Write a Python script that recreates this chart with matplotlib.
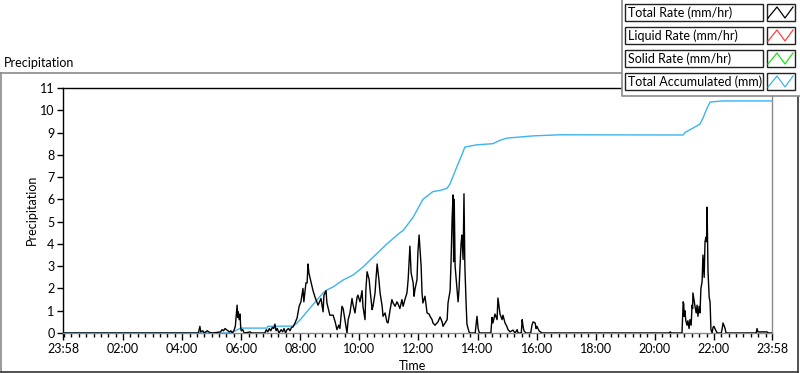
import matplotlib
matplotlib.use("Agg")
import matplotlib.pyplot as plt
from matplotlib.patches import Rectangle
from matplotlib.lines import Line2D
from matplotlib.ticker import FixedLocator, MultipleLocator

plt.rcParams['font.family'] = ['Lato', 'DejaVu Sans']

# time axis in hours after midnight, window 23:58 -> 23:58
t_start = -2 / 60
t_end = 24 - 2 / 60

# Total Rate (mm/hr)
rate_hours = [
    t_start, 4.55, 4.60, 4.63, 4.70, 4.75, 4.85, 4.90, 5.00, 5.15, 5.30, 5.35, 5.40, 5.45,
    5.50, 5.55, 5.60, 5.65, 5.70, 5.75, 5.80, 5.83, 5.86, 5.88, 5.90, 5.93, 5.96, 5.98,
    6.00, 6.05, 6.10, 6.20, 6.30, 6.35, 6.80, 6.85, 6.90, 6.95, 7.00, 7.05, 7.10, 7.14,
    7.18, 7.22, 7.28, 7.35, 7.40, 7.45, 7.50, 7.55, 7.60, 7.65, 7.70, 7.75, 7.82, 7.89,
    7.96, 8.02, 8.09, 8.12, 8.19, 8.23, 8.26, 8.29, 8.36, 8.43, 8.50, 8.60, 8.70, 8.77,
    8.80, 8.87, 8.90, 9.00, 9.11, 9.18, 9.24, 9.30, 9.34, 9.41, 9.45, 9.51, 9.58, 9.62,
    9.68, 9.75, 9.78, 9.85, 9.92, 9.95, 10.02, 10.09, 10.12, 10.19, 10.22, 10.26, 10.33,
    10.36, 10.43, 10.46, 10.53, 10.56, 10.60, 10.66, 10.70, 10.77, 10.80, 10.87, 10.93,
    10.97, 11.04, 11.10, 11.14, 11.21, 11.27, 11.31, 11.37, 11.44, 11.48, 11.54, 11.61,
    11.65, 11.71, 11.75, 11.82, 11.85, 11.88, 11.95, 11.98, 12.02, 12.09, 12.12, 12.15,
    12.22, 12.26, 12.29, 12.36, 12.39, 12.46, 12.49, 12.56, 12.63, 12.66, 12.73, 12.80,
    12.83, 12.90, 12.97, 13.00, 13.07, 13.10, 13.14, 13.17, 13.19, 13.21, 13.24, 13.31,
    13.34, 13.37, 13.44, 13.47, 13.51, 13.54, 13.57, 13.61, 13.64, 13.71, 13.74, 13.92,
    13.95, 13.98, 14.02, 14.06, 14.45, 14.49, 14.52, 14.59, 14.66, 14.69, 14.76, 14.83,
    14.86, 14.93, 14.99, 15.03, 15.10, 15.20, 15.27, 15.34, 15.37, 15.48, 15.51, 15.54,
    15.57, 15.64, 15.80, 15.84, 15.88, 15.95, 15.98, 16.01, 16.08, 16.18, 20.48, 20.52,
    20.56, 20.92, 20.96, 20.98, 20.99, 21.02, 21.05, 21.09, 21.12, 21.16, 21.19, 21.23,
    21.26, 21.28, 21.29, 21.36, 21.40, 21.43, 21.46, 21.50, 21.53, 21.56, 21.60, 21.63,
    21.67, 21.70, 21.73, 21.75, 21.77, 21.80, 21.84, 21.87, 21.90, 21.94, 21.97, 22.00,
    22.07, 22.11, 22.25, 22.28, 22.31, 22.38, 22.41, 23.43, 23.46, 23.49, 23.60, 23.80,
    23.85, t_end,
]
rate_values = [
    0.00, 0.00, 0.30, 0.05, 0.10, 0.00, 0.10, 0.05, 0.00, 0.02, 0.05, 0.15, 0.10, 0.20,
    0.15, 0.10, 0.05, 0.10, 0.00, 0.10, 0.30, 0.80, 1.25, 0.70, 0.95, 0.60, 0.85, 0.30,
    0.10, 0.15, 0.00, 0.02, 0.05, 0.00, 0.00, 0.15, 0.05, 0.20, 0.10, 0.25, 0.20, 0.40,
    0.10, 0.20, 0.00, 0.15, 0.05, 0.20, 0.00, 0.15, 0.20, 0.10, 0.25, 0.27, 0.45, 0.67,
    1.20, 1.40, 2.00, 1.40, 2.25, 2.25, 3.10, 2.70, 2.30, 1.90, 1.60, 1.25, 1.55, 0.95,
    1.70, 1.90, 1.35, 0.80, 0.80, 0.50, 0.15, 0.35, 0.20, 1.20, 1.10, 0.60, 0.00, 0.60,
    0.90, 1.55, 1.30, 0.90, 1.60, 1.70, 1.40, 1.90, 1.20, 0.60, 1.95, 2.75, 2.40,
    1.95, 1.05, 1.20, 1.80, 2.40, 3.10, 2.40, 1.80, 1.20, 0.75, 0.90, 0.50,
    0.45, 1.05, 1.50, 1.35, 1.20, 1.40, 1.30, 1.10, 1.50, 1.20, 1.50, 1.80,
    2.40, 3.90, 2.70, 2.25, 1.65, 1.95, 2.40, 3.60, 4.40, 3.00, 1.80, 1.35,
    1.65, 1.20, 0.90, 0.85, 0.75, 0.60, 0.45, 0.35, 0.45, 0.50, 0.72, 0.50,
    0.30, 0.45, 0.60, 1.35, 1.90, 3.10, 5.20, 6.20, 3.20, 6.00, 3.00, 1.90,
    1.40, 1.90, 4.00, 4.40, 3.30, 6.25, 3.00, 1.40, 0.40, 0.05, 0.00, 0.00,
    0.40, 0.75, 0.20, 0.00, 0.00, 0.70, 0.45, 0.85, 0.60, 1.57, 0.85, 0.60,
    0.80, 0.45, 0.30, 0.15, 0.05, 0.13, 0.00, 0.15, 0.00, 0.00, 0.60, 0.30,
    0.10, 0.00, 0.00, 0.35, 0.50, 0.45, 0.20, 0.30, 0.10, 0.00, 0.00, 0.05,
    0.00, 0.00, 1.40, 1.30, 0.75, 1.00, 0.55, 0.35, 0.55, 0.20, 0.60, 0.35,
    1.25, 1.10, 1.80, 1.20, 0.90, 1.25, 0.75, 1.20, 0.90, 2.00, 2.30, 3.50,
    2.50, 4.10, 4.30, 4.10, 5.65, 2.80, 1.60, 1.40, 0.15, 0.00, 0.25, 0.30,
    0.10, 0.00, 0.00, 0.20, 0.45, 0.20, 0.00, 0.00, 0.20, 0.05, 0.05, 0.05,
    0.00, 0.00,
]

# Total Accumulated (mm)
accum_hours = [
    t_start, 5.50, 5.62, 5.80, 5.95, 6.06, 6.87, 6.90, 7.75, 7.85, 8.00, 8.36, 8.77,
    8.90, 9.11, 9.45, 9.78, 10.12, 10.46, 10.93, 11.37, 11.48, 11.82, 12.15, 12.49,
    12.73, 12.97, 13.07, 13.31, 13.47, 13.57, 13.98, 14.52, 14.76, 14.99, 15.88, 16.80,
    20.96, 21.02, 21.29, 21.53, 21.63, 21.77, 21.87, 22.31, t_end,
]
accum_values = [
    0.00, 0.00, 0.02, 0.10, 0.20, 0.22, 0.22, 0.30, 0.31, 0.40, 0.60, 1.17, 1.80,
    1.93, 2.07, 2.38, 2.60, 2.96, 3.40, 4.00, 4.50, 4.60, 5.20, 6.00, 6.35,
    6.40, 6.50, 6.70, 7.50, 8.00, 8.35, 8.45, 8.50, 8.65, 8.75, 8.85, 8.90,
    8.89, 9.00, 9.20, 9.38, 9.65, 10.10, 10.37, 10.42, 10.42,
]

legend_labels = ["Total Rate (mm/hr)", "Liquid Rate (mm/hr)",
                 "Solid Rate (mm/hr)", "Total Accumulated (mm)"]
legend_colors = ["black", "#ff4040", "#22dd22", "#3cb4f0"]

x_major = [t_start] + list(range(2, 24, 2)) + [t_end]
x_labels = ["23:58"] + [f"{h:02d}:00" for h in range(2, 24, 2)] + ["23:58"]

W, H = 800, 373
fig = plt.figure(figsize=(W / 100, H / 100), dpi=100)

def fx(px):
    return px / W

def fy(py):
    return 1 - py / H

ax = fig.add_axes([fx(63), fy(333), (772 - 63) / W, (333 - 88) / H])
ax.plot(accum_hours, accum_values, color="#3cb4f0", lw=1.0, zorder=2)
ax.plot(rate_hours, rate_values, color="black", lw=1.0, zorder=3)

ax.set_xlim(t_start, t_end)
ax.set_ylim(0, 11)
ax.xaxis.set_major_locator(FixedLocator(x_major))
ax.set_xticklabels(x_labels)
ax.xaxis.set_minor_locator(MultipleLocator(0.25))
ax.yaxis.set_major_locator(MultipleLocator(1))
ax.tick_params(axis="both", which="major", direction="out", length=4, width=1,
               labelsize=9, color="black", pad=2)
ax.tick_params(axis="x", which="major", length=5)
ax.tick_params(axis="x", which="minor", direction="out", length=3, width=1, color="black")

for side in ("left", "top"):
    ax.spines[side].set_color("black")
    ax.spines[side].set_linewidth(1.0)
for side in ("right", "bottom"):
    ax.spines[side].set_color("#8a8a8a")
    ax.spines[side].set_linewidth(1.0)

fig.text(fx(413), fy(366), "Time", ha="center", va="center", fontsize=9)
fig.text(fx(32), fy(210), "Precipitation", ha="center", va="center",
         rotation=90, fontsize=9)
fig.text(fx(4), fy(63), "Precipitation", ha="left", va="center", fontsize=9)

# outer panel frame
frame = [((1, 73), (1, 372), "#8a8a8a"), ((1, 73), (798, 73), "#8a8a8a"),
         ((1, 372), (798, 372), "#333333"), ((798, 73), (798, 372), "#333333")]
for (x0, y0), (x1, y1), c in frame:
    fig.add_artist(Line2D([fx(x0), fx(x1)], [fy(y0), fy(y1)], color=c, lw=1.2,
                          transform=fig.transFigure, zorder=1))

# legend panel over the top-right corner
fig.add_artist(Rectangle((fx(622), fy(96)), fx(800) - fx(622), fy(0) - fy(96),
                         transform=fig.transFigure, facecolor="white",
                         edgecolor="none", zorder=5))
fig.add_artist(Line2D([fx(622), fx(622), fx(800)], [fy(0), fy(96), fy(96)],
                      color="#8a8a8a", lw=1.2, transform=fig.transFigure, zorder=6))

row_tops = [4, 27, 50, 73]
for top, label, color in zip(row_tops, legend_labels, legend_colors):
    bot = top + 17
    fig.add_artist(Rectangle((fx(625), fy(bot)), fx(763) - fx(625), fy(top) - fy(bot),
                             transform=fig.transFigure, facecolor="white",
                             edgecolor="#222222", lw=1.0, zorder=7))
    fig.add_artist(Rectangle((fx(767), fy(bot)), fx(795) - fx(767), fy(top) - fy(bot),
                             transform=fig.transFigure, facecolor="white",
                             edgecolor="#222222", lw=1.0, zorder=7))
    fig.text(fx(628), fy((top + bot) / 2), label, ha="left", va="center",
             fontsize=9, zorder=8)
    zx = [768, 777, 785, 793]
    zy = [bot - 3, top + 3, bot - 3, top + 3]
    fig.add_artist(Line2D([fx(v) for v in zx], [fy(v) for v in zy], color=color,
                          lw=0.9, transform=fig.transFigure, zorder=8))

fig.savefig("out.png", dpi=100, facecolor="white")
